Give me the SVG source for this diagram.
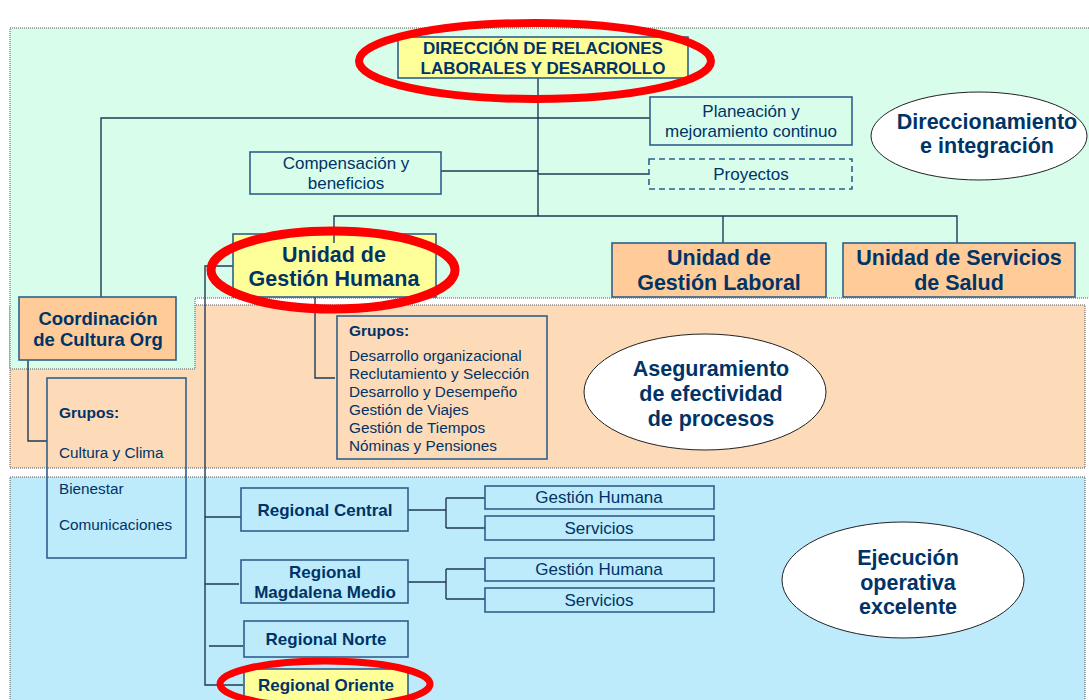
<svg xmlns="http://www.w3.org/2000/svg" width="1089" height="700" viewBox="0 0 1089 700">
<style>
text{font-family:"Liberation Sans",Arial,sans-serif;fill:#003366}
.b{font-weight:bold}
.c{text-anchor:middle}
.big{font-size:21.5px;font-weight:bold;text-anchor:middle}
.reg17{font-size:17px;font-weight:bold;text-anchor:middle}
.sm{font-size:17px;text-anchor:middle}
.lst{font-size:15.3px}
.box{stroke:#2f5f8a;stroke-width:1.6}
.yel{fill:#ffff99}
.org{fill:#ffcc99}
.nof{fill:none}
.reg{stroke:#555;stroke-width:1;stroke-dasharray:1 1}
.con{fill:none;stroke:#1f3a55;stroke-width:1.4}
.oval{fill:#fff;stroke:#222;stroke-width:1}
.red{fill:none;stroke:#ff0000}
</style>
<rect width="1089" height="700" fill="#fff"/>
<!-- regions -->
<g id="regions">
<rect x="10" y="305" width="1075" height="163" fill="#fddbb9" class="reg"/>
<rect x="10" y="477" width="1075" height="230" fill="#bdebfc" class="reg"/>
<path d="M10 28 H1095 V298 H195 V369 H10 Z" fill="#d9fdeb" class="reg"/>
</g>
<!-- connectors -->
<g id="connectors">
<path class="con" d="M538 78 V216" stroke="#333"/>
<path class="con" d="M101 297 V118 H650"/>
<path class="con" d="M441 171 H538"/>
<path class="con" d="M538 174 H649"/>
<path class="con" d="M334 243 V216 H957 V243"/>
<path class="con" d="M723 216 V243"/>
<path class="con" d="M28 360 V441 H47"/>
<path class="con" d="M315 297 V378 H335"/>
<path class="con" d="M233 266 H205 V685 H243"/>
<path class="con" d="M205 517 H241"/>
<path class="con" d="M205 584 H239"/>
<path class="con" d="M209 646 H243"/>
<path class="con" d="M408 510 H446 M446 498 V528 M446 498 H485 M446 528 H485"/>
<path class="con" d="M408 582 H446 M446 569 V599 M446 569 H485 M446 599 H485"/>
</g>
<!-- nodes -->
<g id="n-direccion">
<rect x="398" y="37" width="290" height="41" class="box yel"/>
<text x="543" y="54" class="reg17">DIRECCIÓN DE RELACIONES</text>
<text x="543" y="74" class="reg17">LABORALES Y DESARROLLO</text>
</g>
<g id="n-planeacion">
<rect x="650" y="97" width="202" height="48" class="box" fill="#d9fdeb"/>
<text x="751" y="117" class="sm">Planeación y</text>
<text x="751" y="137" class="sm">mejoramiento continuo</text>
</g>
<g id="n-compensacion">
<rect x="250" y="152" width="191" height="42" class="box" fill="#d9fdeb"/>
<text x="346" y="169" class="sm">Compensación y</text>
<text x="346" y="189" class="sm">beneficios</text>
</g>
<g id="n-proyectos">
<rect x="649" y="159" width="203" height="30" class="box" fill="#d9fdeb" stroke-dasharray="6 4"/>
<text x="751" y="180" class="sm">Proyectos</text>
</g>
<g id="n-ugh">
<rect x="233" y="234" width="203" height="63" class="box yel"/>
<path class="con" d="M334 234 V243"/>
<text x="334" y="262" class="big">Unidad de</text>
<text x="334" y="286" class="big">Gestión Humana</text>
</g>
<g id="n-ugl">
<rect x="612" y="243" width="214" height="54" class="box org"/>
<text x="719" y="265" class="big">Unidad de</text>
<text x="719" y="290" class="big">Gestión Laboral</text>
</g>
<g id="n-uss">
<rect x="843" y="243" width="232" height="54" class="box org"/>
<text x="959" y="265" class="big">Unidad de Servicios</text>
<text x="959" y="290" class="big">de Salud</text>
</g>
<g id="n-direccionamiento">
<ellipse cx="979" cy="136" rx="108" ry="44" class="oval"/>
<text x="987" y="129" class="big">Direccionamiento</text>
<text x="987" y="153" class="big">e integración</text>
</g>
<g id="n-coordinacion">
<rect x="19" y="297" width="157" height="63" class="box org"/>
<text x="98" y="325" class="b c" font-size="18.5">Coordinación</text>
<text x="98" y="346" class="b c" font-size="18.5">de Cultura Org</text>
</g>
<g id="n-grupos-cultura">
<rect x="47" y="378" width="139" height="180" class="box nof"/>
<text x="59" y="418" class="b" font-size="15.5">Grupos:</text>
<text x="59" y="458" class="lst">Cultura y Clima</text>
<text x="59" y="494" class="lst">Bienestar</text>
<text x="59" y="530" class="lst">Comunicaciones</text>
</g>
<g id="n-grupos-gh">
<rect x="337" y="316" width="210" height="143" class="box nof"/>
<text x="349" y="336" class="b" font-size="15.5">Grupos:</text>
<text x="349" y="361" class="lst">Desarrollo organizacional</text>
<text x="349" y="379" class="lst">Reclutamiento y Selección</text>
<text x="349" y="397" class="lst">Desarrollo y Desempeño</text>
<text x="349" y="415" class="lst">Gestión de Viajes</text>
<text x="349" y="433" class="lst">Gestión de Tiempos</text>
<text x="349" y="451" class="lst">Nóminas y Pensiones</text>
</g>
<g id="n-aseguramiento">
<ellipse cx="705" cy="392" rx="121" ry="58" class="oval"/>
<text x="711" y="376" class="big">Aseguramiento</text>
<text x="711" y="401" class="big">de efectividad</text>
<text x="711" y="426" class="big">de procesos</text>
</g>
<g id="n-rcentral">
<rect x="241" y="488" width="167" height="43" class="box nof"/>
<text x="325" y="516" class="reg17">Regional Central</text>
</g>
<g id="n-rc-gh">
<rect x="485" y="486" width="229" height="23" class="box nof"/>
<text x="599" y="503" class="sm">Gestión Humana</text>
</g>
<g id="n-rc-serv">
<rect x="485" y="516" width="229" height="24" class="box nof"/>
<text x="599" y="534" class="sm">Servicios</text>
</g>
<g id="n-rmagdalena">
<rect x="241" y="560" width="167" height="43" class="box nof"/>
<text x="325" y="578" class="reg17">Regional</text>
<text x="325" y="598" class="reg17">Magdalena Medio</text>
</g>
<g id="n-rm-gh">
<rect x="485" y="558" width="229" height="23" class="box nof"/>
<text x="599" y="575" class="sm">Gestión Humana</text>
</g>
<g id="n-rm-serv">
<rect x="485" y="588" width="229" height="24" class="box nof"/>
<text x="599" y="606" class="sm">Servicios</text>
</g>
<g id="n-rnorte">
<rect x="244" y="621" width="164" height="36" class="box nof"/>
<text x="326" y="645" class="reg17">Regional Norte</text>
</g>
<g id="n-roriente">
<rect x="244" y="669" width="164" height="40" class="box yel"/>
<text x="326" y="691" class="reg17">Regional Oriente</text>
</g>
<g id="n-ejecucion">
<ellipse cx="903" cy="580" rx="121" ry="58" class="oval"/>
<text x="908" y="565" class="big">Ejecución</text>
<text x="908" y="590" class="big">operativa</text>
<text x="908" y="614" class="big">excelente</text>
</g>
<!-- red highlights -->
<g id="highlights">
<ellipse cx="535" cy="61" rx="176" ry="38" class="red" stroke-width="8"/>
<ellipse cx="333" cy="270" rx="122" ry="39" class="red" stroke-width="9"/>
<ellipse cx="325" cy="684" rx="105" ry="23" class="red" stroke-width="7"/>
</g>
</svg>
